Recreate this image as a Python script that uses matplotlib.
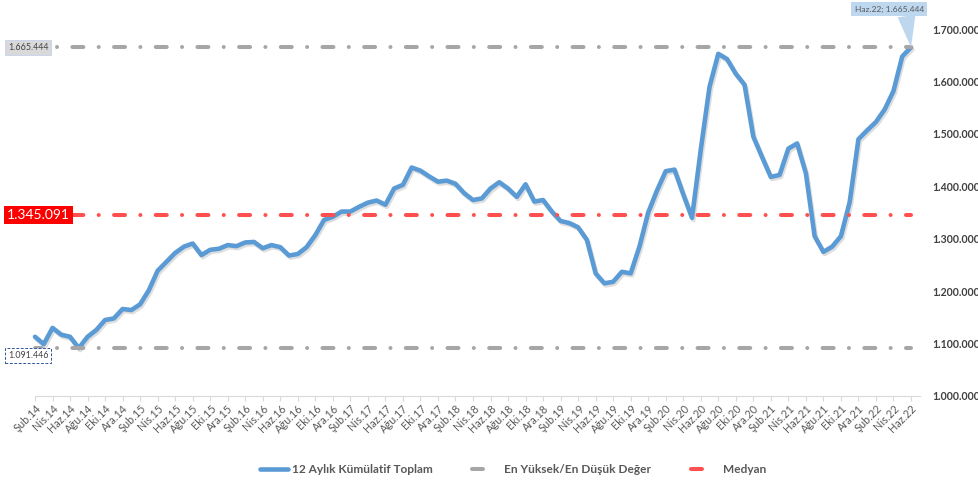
import matplotlib
matplotlib.use('Agg')
import matplotlib.pyplot as plt
import matplotlib.patheffects as pe
from matplotlib.lines import Line2D
from matplotlib.ticker import FuncFormatter

plt.rcParams['font.family'] = ['Lato', 'DejaVu Sans']
plt.rcParams['lines.scale_dashes'] = False

# ---------------- data ----------------
month_names = ['Oca', 'Şub', 'Mar', 'Nis', 'May', 'Haz',
               'Tem', 'Ağu', 'Eyl', 'Eki', 'Kas', 'Ara']
start_year = 2014
start_month = 2   # Şub.14

cumulative_12m = [
    1113000, 1099000, 1130000, 1117000, 1113000, 1091446, 1113000, 1126000, 1145000, 1148000,
    1166000, 1164000, 1175000, 1202000, 1239000, 1256000, 1273000, 1285000, 1291000, 1269000,
    1279000, 1281000, 1288000, 1286000, 1293000, 1294000, 1282000, 1288000, 1284000, 1268000,
    1271000, 1284000, 1307000, 1336000, 1342000, 1352000, 1352000, 1361000, 1369000, 1373000,
    1365000, 1396000, 1403000, 1436000, 1430000, 1419000, 1409000, 1411000, 1405000, 1387000,
    1374000, 1377000, 1396000, 1408000, 1396000, 1380000, 1404000, 1371000, 1374000, 1352000,
    1334000, 1330000, 1322000, 1298000, 1234000, 1215000, 1218000, 1237000, 1234000, 1285000,
    1350000, 1392000, 1429000, 1432000, 1385000, 1340000, 1470000, 1590000, 1653000, 1643000,
    1615000, 1594000, 1495000, 1456000, 1418000, 1422000, 1472000, 1482000, 1425000, 1305000,
    1275000, 1285000, 1305000, 1370000, 1490000, 1507000, 1523000, 1547000, 1582000, 1648000,
    1665444,
]
max_value = 1665444
min_value = 1091446
median_value = 1345091

series_names = ['12 Aylık Kümülatif Toplam', 'En Yüksek/En Düşük Değer', 'Medyan']
y_ticks = [1000000, 1100000, 1200000, 1300000, 1400000, 1500000, 1600000, 1700000]

# ---------------- helpers ----------------
def tr_num(v):
    return f"{int(round(v)):,}".replace(',', '.')

n = len(cumulative_12m)
cat_labels = []
for i in range(n):
    m = (start_month - 1 + i) % 12
    y = start_year + (start_month - 1 + i) // 12
    cat_labels.append(f"{month_names[m]}.{y % 100:02d}")
x = list(range(n))

BLUE = '#5b9bd5'
GRAY = '#a6a6a6'
RED = '#ff4f4f'
TXT = '#595959'

# ---------------- figure ----------------
fig = plt.figure(figsize=(9.79, 4.88), dpi=100)
W, H = 979, 488
left_px, right0_px = 35, 911
bottom_px, top_px = 396, 29.2
ax_w = (right0_px - left_px) * 101 / 100
ax = fig.add_axes([left_px / W, (H - bottom_px) / H, ax_w / W, (bottom_px - top_px) / H])

lw_ref = 2.9
dash_pat = (3.1, (7.9, 11.05, 0.01, 11.05))

line_main, = ax.plot(x, cumulative_12m, color=BLUE, lw=3.3, solid_joinstyle='round',
                     solid_capstyle='round', zorder=3, clip_on=False)
line_main.set_path_effects([pe.SimpleLineShadow(offset=(1.0, -1.5), shadow_color='black', alpha=0.13),
                            pe.Normal()])

ax.plot([x[0], x[-1]], [max_value, max_value], color=GRAY, lw=lw_ref, linestyle=dash_pat,
        dash_capstyle='round', zorder=4, clip_on=False)
ax.plot([x[0], x[-1]], [min_value, min_value], color=GRAY, lw=lw_ref, linestyle=dash_pat,
        dash_capstyle='round', zorder=4, clip_on=False)
ax.plot([x[0], x[-1]], [median_value, median_value], color=RED, lw=lw_ref, linestyle=dash_pat,
        dash_capstyle='round', zorder=4, clip_on=False)

ax.set_xlim(0, 101)
ax.set_ylim(1000000, 1700000)

# axes styling
for s in ['top', 'left', 'right']:
    ax.spines[s].set_visible(False)
ax.spines['bottom'].set_color('#d9d9d9')
ax.spines['bottom'].set_linewidth(0.8)

ax.set_xticks(x[::2])
ax.set_xticklabels(cat_labels[::2])
ax.tick_params(axis='x', length=3.5, width=0.8, color='#d9d9d9', labelsize=7.8,
               labelcolor=TXT, pad=1.5)
for lab in ax.get_xticklabels():
    lab.set_rotation(45)
    lab.set_ha('right')
    lab.set_rotation_mode('anchor')

ax.yaxis.tick_right()
ax.set_yticks(y_ticks)
ax.yaxis.set_major_formatter(FuncFormatter(lambda v, p: tr_num(v)))
ax.tick_params(axis='y', length=0, pad=9.0, labelsize=7.6, labelcolor='#404040')
for lab in ax.get_yticklabels():
    lab.set_fontweight('bold')

# ---------------- data labels ----------------
ax.annotate(tr_num(max_value), xy=(x[0], max_value), xytext=(-5, 0), textcoords='offset points',
            ha='center', va='center', fontsize=6.4, color='#404040', zorder=6,
            bbox=dict(boxstyle='square,pad=0.35', fc='#d9d9d9', ec='#c5d3ea', lw=0.6),
            annotation_clip=False)

ax.annotate(tr_num(median_value), xy=(x[0], median_value), xytext=(2.5, 0), textcoords='offset points',
            ha='center', va='center', fontsize=10, color='white', zorder=6,
            bbox=dict(boxstyle='square,pad=0.22', fc='#ff0000', ec='none'),
            annotation_clip=False)

ax.annotate(tr_num(min_value), xy=(x[0], min_value), xytext=(-5, -5.5), textcoords='offset points',
            ha='center', va='center', fontsize=6.4, color='#404040', zorder=6,
            bbox=dict(boxstyle='square,pad=0.35', fc='white', ec='#2f5597', lw=0.7,
                      linestyle=(0, (2, 1.2))),
            annotation_clip=False)

ax.annotate(f"{cat_labels[-1]}; {tr_num(cumulative_12m[-1])}", xy=(x[-1], cumulative_12m[-1]),
            xytext=(-15.5, 27.5), textcoords='offset points',
            ha='center', va='center', fontsize=6.1, color=TXT, zorder=6,
            bbox=dict(boxstyle='square,pad=0.4', fc='#bdd7ee', ec='none'),
            arrowprops=dict(arrowstyle='wedge,tail_width=1.3', fc='#bdd7ee', ec='none',
                            mutation_scale=10, relpos=(0.74, 0.0), shrinkA=0, shrinkB=0),
            annotation_clip=False)

# ---------------- legend ----------------
handles = [
    Line2D([], [], color=BLUE, lw=3.3, solid_capstyle='round'),
    Line2D([], [], color=GRAY, lw=lw_ref, linestyle=(0, (7.9, 30)), dash_capstyle='round'),
    Line2D([], [], color=RED, lw=lw_ref, linestyle=(0, (7.9, 30)), dash_capstyle='round'),
]
leg = fig.legend(handles, series_names, loc='center', bbox_to_anchor=(0.524, 0.037), ncol=3,
                 frameon=False, handlelength=2.4, handletextpad=0.3, columnspacing=3.3,
                 prop={'size': 8.6, 'weight': 'bold'})
for t in leg.get_texts():
    t.set_color(TXT)

fig.savefig('out.png', dpi=100)
